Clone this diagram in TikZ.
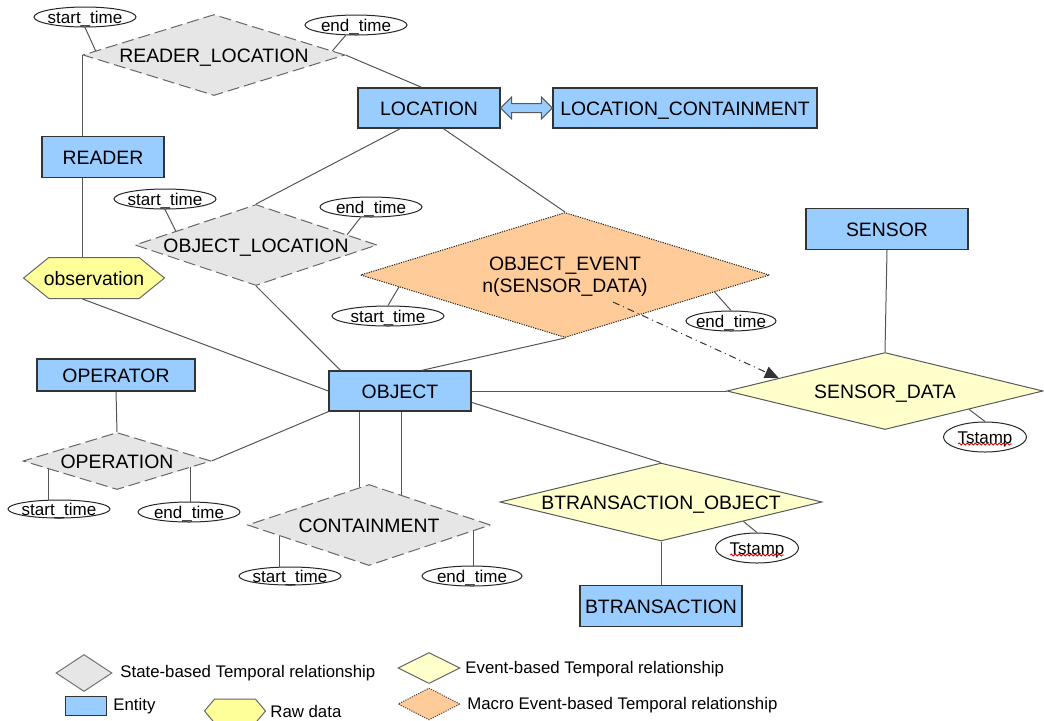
\documentclass[tikz,border=0pt]{standalone}
\usepackage{fontspec}
\setmainfont{Liberation Sans}
\usetikzlibrary{shapes.geometric, shapes.symbols, calc, arrows.meta, decorations.pathmorphing}

\definecolor{entityblue}{HTML}{99CCFF}
\definecolor{stategray}{HTML}{E6E6E6}
\definecolor{eventyellow}{HTML}{FFFFCC}
\definecolor{macroorange}{HTML}{FFCC99}
\definecolor{rawyellow}{HTML}{FFFF99}
\definecolor{linegray}{HTML}{555555}

\tikzset{
	entity/.style={rectangle, draw=black!80, line width=0.6pt, fill=entityblue, inner sep=0pt,
		text height=7pt, text depth=0pt, font=\fontsize{9.7}{11}\selectfont},
	statebased/.style={diamond, aspect=3, draw=black!60, line width=0.5pt, dash pattern=on 6pt off 2.5pt,
		fill=stategray, inner xsep=-6pt, inner ysep=0pt, text height=7pt, text depth=0pt,
		font=\fontsize{9.7}{11}\selectfont},
	eventbased/.style={diamond, aspect=3, draw=black!65, line width=0.5pt, fill=eventyellow,
		inner xsep=-6pt, inner ysep=0pt, text height=7pt, text depth=0pt, font=\fontsize{9.7}{11}\selectfont},
	macroevent/.style={diamond, aspect=3, draw=black!85, line width=0.5pt, dash pattern=on 0.6pt off 0.6pt,
		fill=macroorange, inner xsep=-6pt, inner ysep=0pt, align=center, font=\fontsize{9.7}{11}\selectfont},
	rawdata/.style={signal, signal to=east and west, signal pointer angle=78, draw=black!60, line width=0.5pt,
		fill=rawyellow, inner sep=0pt, text height=7pt, text depth=0pt, font=\fontsize{9.7}{11}\selectfont},
	attr/.style={ellipse, draw=black!85, line width=0.5pt, fill=white, inner xsep=-3pt, inner ysep=-2pt,
		minimum width=51pt, minimum height=10pt, text height=6pt, text depth=0pt,
		font=\fontsize{8.5}{10}\selectfont},
	link/.style={draw=linegray, line width=0.5pt},
	squiggle/.style={draw=red!85!black, line width=0.4pt, decorate, decoration={snake, amplitude=0.5pt, segment length=2pt}},
	legendtxt/.style={anchor=west, inner sep=0pt, font=\fontsize{8.4}{10}\selectfont}
}

\begin{document}
\begin{tikzpicture}[x=0.5pt, y=-0.5pt, >={Triangle[length=7pt, width=6pt]}]
	\useasboundingbox (0,0) rectangle (1044,720);
	% entities
	\node[entity, minimum width=71pt, minimum height=20pt] (loc) at (429,108) {LOCATION};
	\node[entity, minimum width=132pt, minimum height=20pt] (lc) at (685,108) {LOCATION\_CONTAINMENT};
	\node[entity, minimum width=61pt, minimum height=20.5pt] (reader) at (103,157) {READER};
	\node[entity, minimum width=81pt, minimum height=20.5pt] (sensor) at (887,229) {SENSOR};
	\node[entity, minimum width=79pt, minimum height=16pt] (oper) at (116,375) {OPERATOR};
	\node[entity, minimum width=71pt, minimum height=20pt] (obj) at (400,391) {OBJECT};
	\node[entity, minimum width=81pt, minimum height=20.5pt] (btr) at (661,606) {BTRANSACTION};
	% relationships
	\node[statebased, minimum width=131pt, minimum height=40.5pt] (rl) at (214,55) {READER\_LOCATION};
	\node[statebased, minimum width=121pt, minimum height=40.5pt] (ol) at (256,245) {OBJECT\_LOCATION};
	\node[statebased, minimum width=94pt, minimum height=28.5pt] (op) at (117,461) {OPERATION};
	\node[statebased, minimum width=121.5pt, minimum height=40.5pt] (co) at (369,525) {CONTAINMENT};
	\node[macroevent, minimum width=204.5pt, minimum height=62.5pt] (oe) at (565,275) {OBJECT\_EVENT\\\smash{n(SENSOR\_DATA)}};
	\node[eventbased, minimum width=158pt, minimum height=38.5pt] (sd) at (885,391) {SENSOR\_DATA};
	\node[eventbased, aspect=4, minimum width=161pt, minimum height=39pt] (bto) at (661,502) {BTRANSACTION\_OBJECT};
	\node[rawdata, inner xsep=-2.5pt, minimum height=20.5pt] (obs) at (94,278) {observation};
	% attributes
	\node[attr] (st1) at (85,17) {start\_time};
	\node[attr] (et1) at (356,25) {end\_time};
	\node[attr] (st2) at (165,199) {start\_time};
	\node[attr] (et2) at (371,207) {end\_time};
	\node[attr, minimum width=56pt] (st3) at (388,316) {start\_time};
	\node[attr, minimum width=45pt] (et3) at (731,321) {end\_time};
	\node[attr, minimum height=9pt] (st4) at (59,509) {start\_time};
	\node[attr] (et4) at (189,512) {end\_time};
	\node[attr, minimum height=9pt] (st5) at (290,576) {start\_time};
	\node[attr, minimum width=50pt] (et5) at (472,576) {end\_time};
	\node[attr, minimum width=41.5pt, minimum height=15pt] (ts1) at (985,437) {Tstamp};
	\node[attr, minimum width=41.5pt, minimum height=15pt] (ts2) at (757,548) {Tstamp};
	\draw[squiggle] ([xshift=-13.5pt, yshift=-3.5pt]ts1.center) -- ++(27pt,0);
	\draw[squiggle] ([xshift=-13.5pt, yshift=-3.5pt]ts2.center) -- ++(27pt,0);

	% LOCATION <-> LOCATION_CONTAINMENT
	\draw[fill=entityblue, draw=black!65, line width=0.5pt] (loc.east) -- ++(5.5pt,5.5pt) -- ++(0,-3.25pt)
		-- ([xshift=-5.5pt, yshift=2.25pt]lc.west) -- ++(0,3.25pt) -- (lc.west) -- ++(-5.5pt,-5.5pt)
		-- ++(0,3.25pt) -- ([xshift=5.5pt, yshift=-2.25pt]loc.east) -- ++(0,-3.25pt) -- cycle;

	% links
	\draw[link] (st1.south) -- ($(rl.west)!0.1!(rl.north)$);
	\draw[link] (et1.225) -- ($(rl.north)!0.9!(rl.east)$);
	\draw[link] (rl.east) -- ($(loc.north west)!0.45!(loc.north east)$);
	\draw[link] (rl.west) -- (rl.west |- reader.north);
	\draw[link] (reader.south -| rl.west) -- (obs.north -| rl.west);
	\draw[link] (obs.south -| rl.west) -- (obj.west);
	\draw[link] ($(loc.south west)!0.3!(loc.south east)$) -- (ol.north);
	\draw[link] ($(loc.south west)!0.6!(loc.south east)$) -- (oe.north);
	\draw[link] (st2.south) -- ($(ol.west)!0.34!(ol.north)$);
	\draw[link] (et2.225) -- ($(ol.north)!0.75!(ol.east)$);
	\draw[link] (ol.south) -- ($(obj.north west)!0.085!(obj.north east)$);
	\draw[link] (oe.south) -- ($(obj.north west)!0.65!(obj.north east)$);
	\draw[link] (st3.north) -- ($(oe.west)!0.19!(oe.south)$);
	\draw[link] (et3.north) -- ($(oe.east)!0.27!(oe.south)$);
	\draw[->, draw=black!80, line width=0.5pt, dash pattern=on 3.5pt off 2pt on 0.5pt off 2pt]
		($(oe.center)+(24pt,-13.5pt)$) -- ($(sd.west)!0.33!(sd.north)$);
	\draw[link] (obj.east) -- (sd.west);
	\draw[link] ($(obj.east)!0.55!(obj.south east)$) -- (bto.north);
	\draw[link] (sensor.south) -- (sd.north);
	\draw[link] (ts1.north) -- ($(sd.east)!0.47!(sd.south)$);
	\draw[link] (bto.south) -- (btr.north);
	\draw[link] (ts2.north) -- ($(bto.east)!0.49!(bto.south)$);
	\draw[link] (oper.south) -- (op.north);
	\draw[link] (op.east) -- (obj.south west);
	\coordinate (op_l) at ($(op.west)!0.28!(op.south)$);
	\coordinate (op_r) at ($(op.east)!0.22!(op.south)$);
	\draw[link] (op_l) -- (op_l |- st4.north);
	\draw[link] (op_r) -- (op_r |- et4.north);
	\coordinate (co_a) at ($(co.west)!0.926!(co.north)$);
	\coordinate (co_b) at ($(co.north)!0.27!(co.east)$);
	\coordinate (co_l) at ($(co.west)!0.264!(co.south)$);
	\coordinate (co_r) at ($(co.east)!0.14!(co.south)$);
	\draw[link] (co_a |- obj.south) -- (co_a);
	\draw[link] (co_b |- obj.south) -- (co_b);
	\draw[link] (co_l) -- (co_l |- st5.north);
	\draw[link] (co_r) -- (co_r |- et5.north);

	% legend
	\node[diamond, draw=black!55, line width=0.5pt, fill=stategray, inner sep=0pt, minimum width=28pt, minimum height=18.5pt] (lg_state) at (84,673) {};
	\node[legendtxt] (lg_state_txt) at (120,673) {State-based Temporal relationship};
	\node[entity, minimum width=20.5pt, minimum height=9.5pt] (lg_entity) at (86,706) {};
	\node[legendtxt] (lg_entity_txt) at (113,706) {Entity};
	\node[rawdata, signal pointer angle=100, minimum width=30.5pt, minimum height=12pt] (lg_raw) at (235,711) {};
	\node[legendtxt] (lg_raw_txt) at (270,711) {Raw data};
	\node[diamond, draw=black!60, line width=0.5pt, fill=eventyellow, inner sep=0pt, minimum width=31pt, minimum height=15.5pt] (lg_event) at (429,668) {};
	\node[legendtxt] (lg_event_txt) at (465,669) {Event-based Temporal relationship};
	\node[diamond, draw=black!70, line width=0.5pt, dash pattern=on 0.6pt off 0.6pt, fill=macroorange, inner sep=0pt, minimum width=31pt, minimum height=16pt] (lg_macro) at (429,704) {};
	\node[legendtxt] (lg_macro_txt) at (467,705) {Macro Event-based Temporal relationship};
\end{tikzpicture}
\end{document}
